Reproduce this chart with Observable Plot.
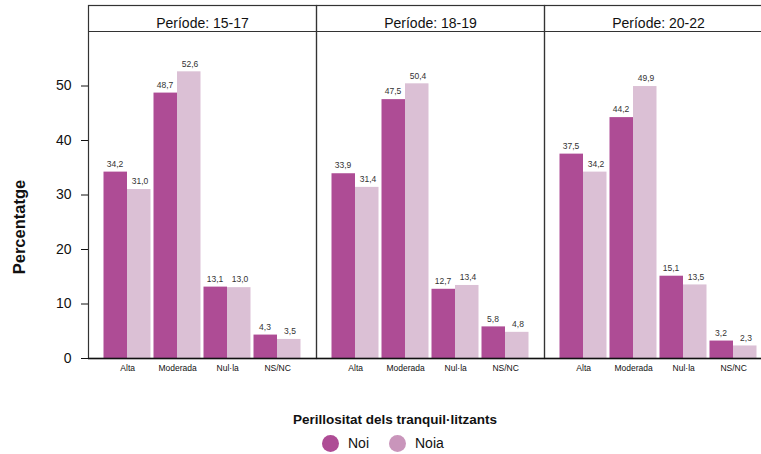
<!DOCTYPE html>
<html>
<head>
<meta charset="utf-8">
<script src="https://cdn.jsdelivr.net/npm/d3@7"></script>
<script src="https://cdn.jsdelivr.net/npm/@observablehq/plot@0.6"></script>
<style>
  html, body { margin: 0; padding: 0; background: #fff; overflow: hidden; width: 761px; height: 454px; }
  body { position: relative; font-family: "Liberation Sans", Arial, sans-serif; }
  #chart { position: absolute; left: 0; top: 0; width: 772px; }
  #chart svg { max-width: none !important; width: 772px !important; height: 400px !important; }
  .lg-title { position: absolute; left: 0; width: 790px; top: 412px; text-align: center; font-weight: bold; font-size: 13.5px; color: #111; }
  .lg-item { position: absolute; top: 434px; height: 18px; display: flex; align-items: center; font-size: 14px; color: #111; }
  .lg-dot { width: 17px; height: 17px; border-radius: 50%; margin-right: 9px; }
</style>
</head>
<body>
<div id="chart"></div>
<div class="lg-title">Perillositat dels tranquil·litzants</div>
<div class="lg-item" style="left:322px"><span class="lg-dot" style="background:#ae4c95"></span>Noi</div>
<div class="lg-item" style="left:389px"><span class="lg-dot" style="background:#c995bb"></span>Noia</div>
<script>
const periods = ["15-17", "18-19", "20-22"];
const categories = ["Alta", "Moderada", "Nul·la", "NS/NC"];
const sexes = ["Noi", "Noia"];
const noiValues = [
  [34.2, 48.7, 13.1, 4.3],
  [33.9, 47.5, 12.7, 5.8],
  [37.5, 44.2, 15.1, 3.2]
];
const noiaValues = [
  [31.0, 52.6, 13.0, 3.5],
  [31.4, 50.4, 13.4, 4.8],
  [34.2, 49.9, 13.5, 2.3]
];
const yTicks = [0, 10, 20, 30, 40, 50];

const rows = [];
periods.forEach((p, i) => {
  categories.forEach((c, j) => {
    rows.push({period: p, cat: c, sex: "Noi", key: c + "|Noi", value: noiValues[i][j]});
    rows.push({period: p, cat: c, sex: "Noia", key: c + "|Noia", value: noiaValues[i][j]});
  });
});
const keys = categories.flatMap(c => sexes.map(s => c + "|" + s));
const catLabels = periods.flatMap(p => categories.map(c => ({period: p, cat: c})));

const width = 772, marginLeft = 88;
const panelW = (width - marginLeft) / periods.length;
const step = panelW / (keys.length + 1);
const fmt = v => v.toFixed(1).replace(".", ",");

const plot = Plot.plot({
  width,
  height: 400,
  marginLeft,
  marginRight: 0,
  marginTop: 5,
  marginBottom: 42,
  style: {fontFamily: "Liberation Sans, Arial, sans-serif", fontSize: "14px", color: "#111", background: "#fff", maxWidth: "none"},
  fx: {domain: periods, padding: 0, axis: null},
  x: {domain: keys, paddingInner: 0, paddingOuter: 0.5, axis: null},
  y: {domain: [0, 60], range: [358, 31], axis: null},
  color: {domain: sexes, range: ["#ae4c95", "#dbc0d5"]},
  marks: [
    Plot.barY(rows.filter(d => d.sex === "Noi"), {fx: "period", x: "key", y: "value", fill: "sex", insetLeft: 1.5, insetRight: 0}),
    Plot.barY(rows.filter(d => d.sex === "Noia"), {fx: "period", x: "key", y: "value", fill: "sex", insetLeft: 0, insetRight: 1.5}),
    Plot.text(rows, {fx: "period", x: "key", y: "value", text: d => fmt(d.value), dy: -8, fontSize: 8.5, fill: "#333"}),
    Plot.text(catLabels, {fx: "period", x: d => d.cat + "|Noi", text: "cat", frameAnchor: "bottom", dx: step / 2, dy: 12, fontSize: 8.5, fill: "#111"}),
    Plot.text(periods, {fx: d => d, text: d => "Període: " + d, frameAnchor: "top", dy: 13, fontSize: 14, fill: "#111"}),
    Plot.ruleY([60], {stroke: "#333", strokeWidth: 1}),
    Plot.frame({stroke: "#333", strokeWidth: 1.2}),
    Plot.ruleY([0], {stroke: "#111", strokeWidth: 1.5}),
    Plot.axisY({ticks: yTicks, tickSize: 7, tickPadding: 10, fontSize: 14, label: null, stroke: "#111"}),
    Plot.text([periods[0]], {fx: d => d, text: () => "Percentatge", frameAnchor: "left", textAnchor: "middle", rotate: -90, dx: -69, dy: 45, fontWeight: "bold", fontSize: 16.5, fill: "#111"})
  ]
});
document.getElementById("chart").appendChild(plot);
</script>
</body>
</html>
